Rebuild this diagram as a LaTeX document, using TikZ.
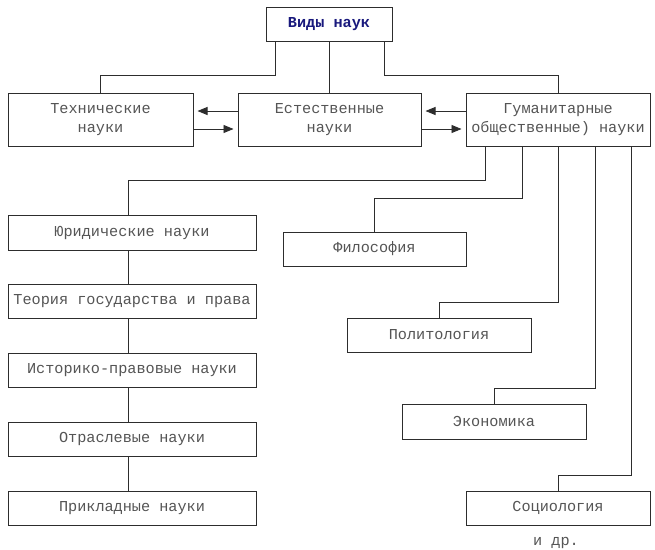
\documentclass[tikz,border=0pt]{standalone}
\usepackage{fontspec}
\setmonofont{Liberation Mono}
\usetikzlibrary{arrows.meta}
\definecolor{txt}{RGB}{85,85,85}
\definecolor{ln}{RGB}{45,45,45}
\definecolor{ttl}{RGB}{25,25,125}
\tikzset{
  box/.style={draw=ln, line width=1pt, rectangle, inner sep=0pt, align=center,
    font=\ttfamily\fontsize{15.2}{19.5}\selectfont, text=txt},
  conn/.style={draw=ln, line width=0.9pt},
  arr/.style={draw=ln, line width=0.9pt, -{Triangle[length=10pt,width=8pt]}, shorten >=4pt}
}
\begin{document}
\begin{tikzpicture}[x=1pt,y=-1pt]
\fill[white] (0,0) rectangle (655,549);
\useasboundingbox (0,0) rectangle (655,549);
% top
\node[box, minimum width=126pt, minimum height=34pt, text=ttl, font=\ttfamily\bfseries\fontsize{15.2}{19.5}\selectfont] (top) at (329,24) {Виды наук};
% level 2
\node[box, minimum width=185pt, minimum height=53pt] (T) at (100.5,119.5) {Технические\\науки};
\node[box, minimum width=183pt, minimum height=53pt] (E) at (329.5,119.5) {Естественные\\науки};
\node[box, minimum width=184pt, minimum height=53pt] (G) at (558,119.5) {Гуманитарные\\общественные) науки};
% left column
\node[box, minimum width=248pt, minimum height=35pt] (Ju) at (132,232.5) {Юридические науки};
\node[box, minimum width=248pt, minimum height=34pt] (Teor) at (132,301) {Теория государства и права};
\node[box, minimum width=248pt, minimum height=34pt] (Ist) at (132,370) {Историко-правовые науки};
\node[box, minimum width=248pt, minimum height=34pt] (Otr) at (132,439) {Отраслевые науки};
\node[box, minimum width=248pt, minimum height=34pt] (Prik) at (132,508) {Прикладные науки};
% right staircase
\node[box, minimum width=183pt, minimum height=34pt] (Fil) at (374.5,249) {Философия};
\node[box, minimum width=184pt, minimum height=34pt] (Pol) at (439,335) {Политология};
\node[box, minimum width=184pt, minimum height=35pt] (Eko) at (494,421.5) {Экономика};
\node[box, minimum width=184pt, minimum height=34pt] (Soc) at (558,508) {Социология};
\node[font=\ttfamily\fontsize{15.2}{19.5}\selectfont, text=txt, inner sep=0pt] (etc) at (556,543) {и др.};
% connectors from top
\draw[conn] ([xshift=-54pt]top.south) -- ++(0,34) -| (T.north);
\draw[conn] (top.south) -- (top.south |- E.north);
\draw[conn] ([xshift=55pt]top.south) -- ++(0,34) -| (G.north);
% arrows
\draw[arr] ([yshift=8.5pt]E.west) -- ([yshift=8.5pt]T.east);
\draw[arr] ([yshift=-9.5pt]T.east) -- ([yshift=-9.5pt]E.west);
\draw[arr] ([yshift=8.5pt]G.west) -- ([yshift=8.5pt]E.east);
\draw[arr] ([yshift=-9.5pt]E.east) -- ([yshift=-9.5pt]G.west);
% from Гуманитарные
\draw[conn] ([xshift=-73pt]G.south) -- ++(0,34) -| ([xshift=-4pt]Ju.north);
\draw[conn] ([xshift=-36pt]G.south) -- ++(0,52) -| (Fil.north);
\draw[conn] (G.south) -- ++(0,156) -| (Pol.north);
\draw[conn] ([xshift=37pt]G.south) -- ++(0,242) -| (Eko.north);
\draw[conn] ([xshift=73.7pt]G.south) -- ++(0,329) -| (Soc.north);
% left column chain
\draw[conn] ([xshift=-4pt]Ju.south) -- ([xshift=-4pt]Teor.north);
\draw[conn] ([xshift=-4pt]Teor.south) -- ([xshift=-4pt]Ist.north);
\draw[conn] ([xshift=-4pt]Ist.south) -- ([xshift=-4pt]Otr.north);
\draw[conn] ([xshift=-4pt]Otr.south) -- ([xshift=-4pt]Prik.north);
\end{tikzpicture}
\end{document}
